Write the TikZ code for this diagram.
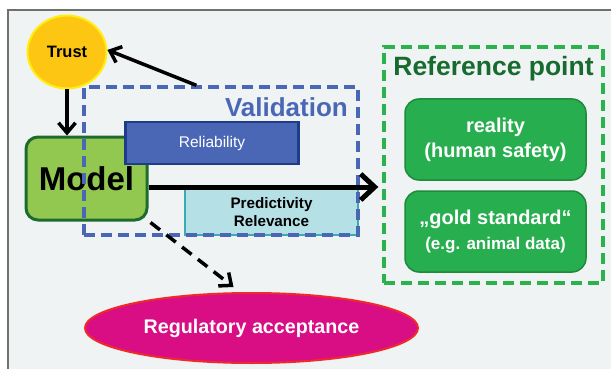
\documentclass[tikz,border=0pt]{standalone}
\usepackage{fontspec}
\setmainfont{Liberation Sans}
\usetikzlibrary{arrows.meta,calc,shapes.geometric}
\definecolor{bgc}{HTML}{EFF3F4}
\definecolor{framec}{HTML}{707070}
\definecolor{trustfill}{HTML}{FDC613}
\definecolor{trustdraw}{HTML}{FFEE10}
\definecolor{modelfill}{HTML}{92C850}
\definecolor{modeldraw}{HTML}{1E6B30}
\definecolor{valblue}{HTML}{4A67B5}
\definecolor{reldraw}{HTML}{1F3C88}
\definecolor{predfill}{HTML}{B5E1E6}
\definecolor{preddraw}{HTML}{3AABB0}
\definecolor{refgreen}{HTML}{2BB24C}
\definecolor{reftitle}{HTML}{176B2F}
\definecolor{boxfill}{HTML}{27AE4F}
\definecolor{boxdraw}{HTML}{1E8A3C}
\definecolor{regfill}{HTML}{D90E84}
\definecolor{regdraw}{HTML}{EE2A2A}
\tikzset{
  boxbase/.style={inner sep=0pt, align=center},
  greenbox/.style={boxbase, rounded corners=14pt, fill=boxfill, draw=boxdraw, line width=1.5pt,
    minimum width=181pt, minimum height=81pt, text=white, font=\bfseries\fontsize{20}{25}\selectfont},
  arr/.style={line width=3.5pt, -{Straight Barb[length=10pt,width=17pt,line width=3.5pt]}},
  dashbox/.style={boxbase, line width=3.3pt, dash pattern=on 11pt off 6pt},
}
\begin{document}
\begin{tikzpicture}[x=1pt,y=-1pt]
\useasboundingbox (0,0) rectangle (611,369);
\fill[white] (0,0) rectangle (611,369);
\filldraw[fill=bgc, draw=framec, line width=1.5pt] (8,10) rectangle (625,385);
% Trust
\node[ellipse, boxbase, minimum width=79pt, minimum height=73pt, fill=trustfill, draw=trustdraw, line width=2pt,
  font=\bfseries\fontsize{16.5}{16.5}\selectfont] (trust) at (67,52) {Trust};
% Model
\node[boxbase, rounded corners=12pt, minimum width=121pt, minimum height=83pt, fill=modelfill, draw=modeldraw,
  line width=3pt, font=\bfseries\fontsize{33}{33}\selectfont] (model) at (86.5,178.5) {Model};
% Reliability
\node[boxbase, minimum width=173pt, minimum height=42pt, fill=valblue, draw=reldraw, line width=2.5pt,
  text=white, font=\fontsize{15.5}{15.5}\selectfont] (rel) at (212,143) {Reliability};
% Predictivity
\node[boxbase, minimum width=173pt, minimum height=46pt, fill=predfill, draw=preddraw, line width=2.5pt,
  font=\bfseries\fontsize{15.2}{18}\selectfont] (pred) at (271.5,212) {Predictivity\\Relevance};
% Validation box
\node[dashbox, draw=valblue, minimum width=274pt, minimum height=148pt] (val) at (221,161) {};
\node[boxbase, text=valblue, font=\bfseries\fontsize{26}{26}\selectfont, anchor=east] (valt) at (348,107) {Validation};
% Reference point
\node[dashbox, draw=refgreen, minimum width=219pt, minimum height=236pt] (ref) at (493.5,165) {};
\node[boxbase, text=reftitle, font=\bfseries\fontsize{26.5}{26.5}\selectfont] (reft) at (493.5,69) {Reference point};
\node[greenbox] (reality) at (495.5,139.5) {reality\\(human safety)};
\node[greenbox] (gold) at (495.5,231.5) {„gold standard“\\{\fontsize{17}{25}\selectfont(e.g. animal data)}};
% Regulatory acceptance
\node[ellipse, boxbase, minimum width=333pt, minimum height=70pt, fill=regfill, draw=regdraw, line width=2pt,
  text=white, font=\bfseries\fontsize{19.7}{19.7}\selectfont] (reg) at (251.5,328) {Regulatory acceptance};
% connectors
\draw[arr] (trust.south) -- (trust.south |- model.north);
\draw[arr] ([xshift=114pt]val.north west) -- (trust.3);
\path ([yshift=-8.5pt]model.east) coordinate (a1);
\draw[line width=5pt, -{Straight Barb[length=14pt,width=26pt,line width=5pt]}] (a1) -- ([xshift=-4pt]ref.west |- a1);
\draw[arr, dash pattern=on 12pt off 8pt] ([xshift=2pt,yshift=-1pt]model.south east) -- ([xshift=-18pt,yshift=5pt]reg.north);
\end{tikzpicture}
\end{document}
